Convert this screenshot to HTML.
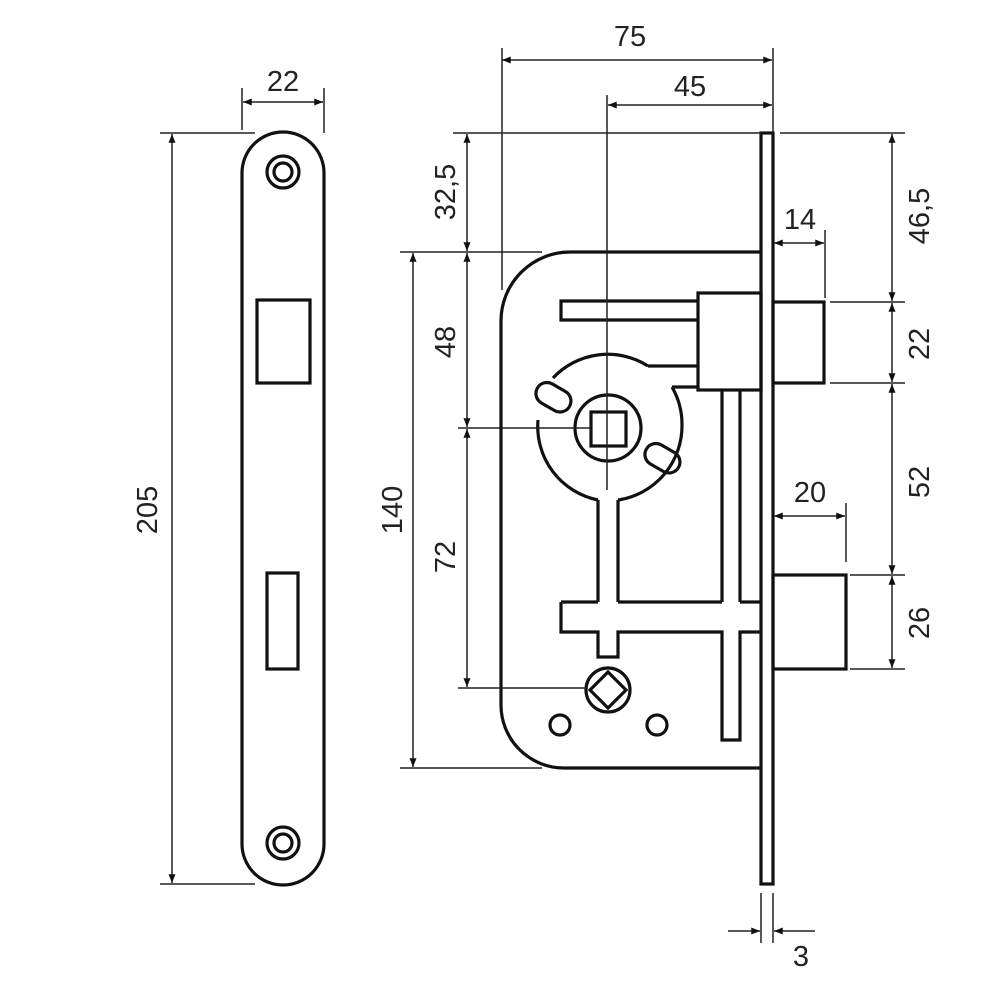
<!DOCTYPE html>
<html><head><meta charset="utf-8"><style>html,body{margin:0;padding:0;background:#fff}svg{display:block}</style></head><body>
<svg width="1000" height="1000" viewBox="0 0 1000 1000" xmlns="http://www.w3.org/2000/svg">
<defs>
<marker id="a" viewBox="0 0 10 8" refX="10" refY="4" markerWidth="9" markerHeight="7" markerUnits="userSpaceOnUse" orient="auto-start-reverse"><path d="M0,0L10,4L0,8z" fill="#111"/></marker>
</defs>
<g fill="none" stroke="#111" stroke-width="3.2">
<!-- strike plate -->
<rect x="242" y="132" width="82" height="753" rx="41" ry="41"/>
<circle cx="283" cy="172" r="16"/><circle cx="283" cy="172" r="9"/>
<circle cx="283" cy="843" r="16"/><circle cx="283" cy="843" r="9"/>
<rect x="257" y="300" width="53" height="83"/>
<rect x="267" y="573" width="31" height="96"/>
<!-- faceplate -->
<rect x="761" y="133" width="12" height="751"/>
<!-- body -->
<path d="M761,252 H570 A69,69 0 0 0 501,321 V705 A63,63 0 0 0 564,768 H761"/>
<!-- latch -->
<rect x="773" y="302" width="51" height="81"/>
<rect x="698" y="293" width="63" height="97"/>
<path d="M698,301 H561 V320 H698"/>
<!-- cam -->
<path d="M648,366 H698 M672,387 H698 M648,366 A75,75 0 0 0 553,378 M538,420 A75,75 0 0 0 598,500 M618,500 A75,75 0 0 0 682,425 M672,387 A75,75 0 0 1 682,425"/>
<path d="M598,500 V602 M618,500 V602"/>
<circle cx="608" cy="428" r="33"/>
<rect x="591" y="412" width="35" height="34"/>
<rect x="535" y="386" width="37" height="22" rx="11" transform="rotate(30 553 397)"/>
<rect x="644" y="447" width="37" height="22" rx="11" transform="rotate(30 662 458)"/>
<!-- rods -->
<path d="M722,390 V602 M740,390 V602 M740,602 H761 M561,602 H598 M618,602 H722 M561,602 V632 H598 V657 H618 V632 H722 V740 H740 V632 H761"/>
<!-- cylinder hole -->
<circle cx="608" cy="690" r="22"/>
<path d="M608,672 L626,690 L608,708 L590,690 Z"/>
<circle cx="560" cy="725" r="10"/><circle cx="657" cy="725" r="10"/>
<!-- deadbolt -->
<rect x="773" y="575" width="73" height="94"/>
</g>
<g stroke="#222" stroke-width="1.5" fill="none">
<!-- 22 -->
<path d="M242,88 V130 M324,88 V133"/>
<path d="M243,102 H323" marker-start="url(#a)" marker-end="url(#a)"/>
<!-- 205 -->
<path d="M160,133 H255 M160,884 H255"/>
<path d="M172,134 V883" marker-start="url(#a)" marker-end="url(#a)"/>
<!-- 75 / 45 -->
<path d="M502,48 V290 M773,48 V133 M607,95 V490"/>
<path d="M502,60 H772" marker-start="url(#a)" marker-end="url(#a)"/>
<path d="M608,105 H772" marker-start="url(#a)" marker-end="url(#a)"/>
<!-- left vertical dims -->
<path d="M453,133 H761 M400,252 H542 M458,428 H590 M458,688 H586 M400,768 H542"/>
<path d="M467,134 V251" marker-start="url(#a)" marker-end="url(#a)"/>
<path d="M467,253 V427" marker-start="url(#a)" marker-end="url(#a)"/>
<path d="M467,429 V687" marker-start="url(#a)" marker-end="url(#a)"/>
<path d="M413,253 V767" marker-start="url(#a)" marker-end="url(#a)"/>
<!-- right dims -->
<path d="M780,133 H905 M830,302 H905 M830,383 H905 M850,575 H905 M850,669 H905"/>
<path d="M892,134 V301" marker-start="url(#a)" marker-end="url(#a)"/>
<path d="M892,303 V382" marker-start="url(#a)" marker-end="url(#a)"/>
<path d="M892,384 V574" marker-start="url(#a)" marker-end="url(#a)"/>
<path d="M892,576 V668" marker-start="url(#a)" marker-end="url(#a)"/>
<!-- 14 -->
<path d="M825,230 V298"/>
<path d="M774,243 H824" marker-start="url(#a)" marker-end="url(#a)"/>
<!-- 20 -->
<path d="M846,503 V562"/>
<path d="M774,516 H845" marker-start="url(#a)" marker-end="url(#a)"/>
<!-- 3 -->
<path d="M761,893 V943 M773,893 V943"/>
<path d="M728,931 H760" marker-end="url(#a)"/>
<path d="M815,931 H774" marker-end="url(#a)"/>
</g>
<g font-family="Liberation Sans, sans-serif" font-size="29" fill="#222" text-anchor="middle">
<text x="283" y="91">22</text>
<text x="630" y="46">75</text>
<text x="690" y="96">45</text>
<text x="800" y="229">14</text>
<text x="810" y="502">20</text>
<text x="801" y="966">3</text>
<text transform="translate(157,510) rotate(-90)">205</text>
<text transform="translate(402,510) rotate(-90)">140</text>
<text transform="translate(455,192) rotate(-90)">32,5</text>
<text transform="translate(455,342) rotate(-90)">48</text>
<text transform="translate(455,557) rotate(-90)">72</text>
<text transform="translate(929,216) rotate(-90)">46,5</text>
<text transform="translate(929,344) rotate(-90)">22</text>
<text transform="translate(929,482) rotate(-90)">52</text>
<text transform="translate(929,623) rotate(-90)">26</text>
</g>
</svg>
</body></html>
